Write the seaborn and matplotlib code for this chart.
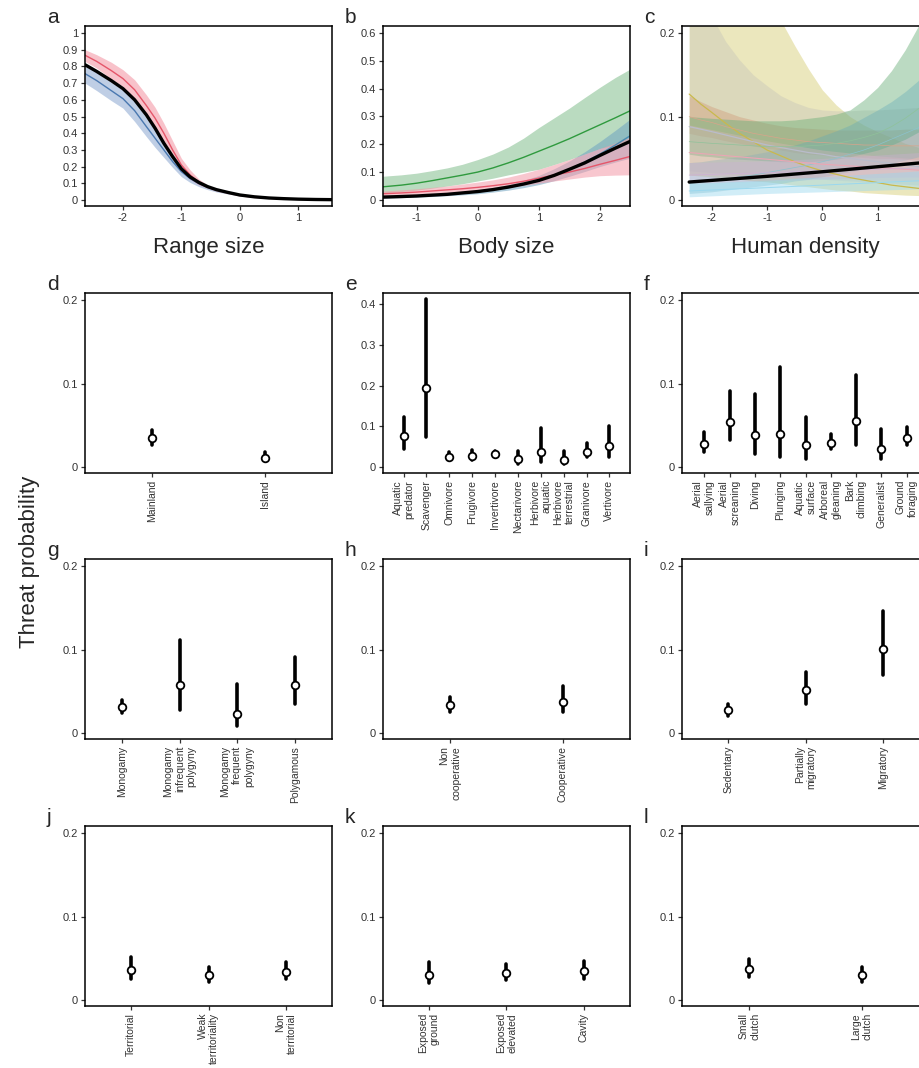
import numpy as np
import pandas as pd
import matplotlib
matplotlib.use("Agg")
import matplotlib.pyplot as plt
import seaborn as sns

sns.set_theme(style="ticks")
plt.rcParams["font.family"] = ["Liberation Sans", "DejaVu Sans"]

# =============================================================================
# DATA
# =============================================================================
# a - range size
xa = [-2.65, -2.45, -2.2, -2.0, -1.8, -1.6, -1.45, -1.3, -1.15, -1.0, -0.85,
      -0.7, -0.55, -0.4, -0.2, 0, 0.25, 0.5, 0.75, 1.0, 1.3, 1.58]
a_black = [0.81, 0.77, 0.715, 0.667, 0.60, 0.51, 0.43, 0.34, 0.26, 0.187, 0.138,
           0.105, 0.08, 0.062, 0.045, 0.03, 0.019, 0.012, 0.008, 0.005, 0.003, 0.002]
a_red = [0.867, 0.83, 0.775, 0.727, 0.66, 0.566, 0.49, 0.40, 0.30, 0.21, 0.15,
         0.108, 0.08, 0.06, 0.043, 0.028, 0.018, 0.011, 0.007, 0.004, 0.003, 0.002]
a_red_hi = [0.90, 0.87, 0.825, 0.78, 0.72, 0.63, 0.555, 0.46, 0.355, 0.25, 0.18,
            0.125, 0.09, 0.067, 0.048, 0.033, 0.021, 0.014, 0.009, 0.006, 0.004, 0.003]
a_red_lo = [0.83, 0.79, 0.725, 0.68, 0.605, 0.51, 0.43, 0.34, 0.25, 0.17, 0.123,
            0.09, 0.07, 0.053, 0.038, 0.023, 0.014, 0.008, 0.005, 0.003, 0.002, 0.001]
a_blue = [0.757, 0.715, 0.655, 0.607, 0.535, 0.44, 0.37, 0.30, 0.23, 0.17, 0.128,
          0.098, 0.076, 0.059, 0.044, 0.03, 0.019, 0.012, 0.008, 0.005, 0.003, 0.002]
a_blue_hi = [0.80, 0.765, 0.705, 0.66, 0.59, 0.49, 0.42, 0.345, 0.265, 0.19, 0.142,
             0.108, 0.084, 0.066, 0.05, 0.035, 0.023, 0.015, 0.01, 0.007, 0.004, 0.003]
a_blue_lo = [0.70, 0.655, 0.595, 0.55, 0.47, 0.38, 0.315, 0.255, 0.195, 0.14, 0.105,
             0.08, 0.062, 0.048, 0.036, 0.024, 0.015, 0.009, 0.006, 0.003, 0.002, 0.001]

# b - body size
xb = [-1.55, -1.25, -1, -0.75, -0.5, -0.25, 0, 0.25, 0.5, 0.75, 1, 1.25, 1.5,
      1.75, 2, 2.25, 2.49]
b_black = [0.01, 0.012, 0.014, 0.017, 0.02, 0.025, 0.03, 0.037, 0.046, 0.057, 0.07,
           0.088, 0.11, 0.133, 0.16, 0.186, 0.21]
b_green = [0.047, 0.053, 0.06, 0.069, 0.079, 0.089, 0.10, 0.115, 0.133, 0.153, 0.175,
           0.197, 0.22, 0.245, 0.27, 0.295, 0.32]
b_green_hi = [0.085, 0.09, 0.096, 0.105, 0.115, 0.128, 0.145, 0.165, 0.19, 0.222, 0.26,
              0.295, 0.33, 0.368, 0.405, 0.44, 0.47]
b_green_lo = [0.025, 0.03, 0.035, 0.042, 0.05, 0.058, 0.068, 0.078, 0.09, 0.1, 0.11,
              0.127, 0.145, 0.165, 0.185, 0.198, 0.21]
b_red = [0.022, 0.025, 0.028, 0.032, 0.036, 0.04, 0.045, 0.051, 0.058, 0.067, 0.078,
         0.089, 0.10, 0.113, 0.128, 0.142, 0.156]
b_red_hi = [0.032, 0.036, 0.04, 0.045, 0.05, 0.057, 0.064, 0.072, 0.082, 0.095, 0.11,
            0.127, 0.145, 0.165, 0.185, 0.205, 0.225]
b_red_lo = [0.015, 0.017, 0.02, 0.023, 0.026, 0.029, 0.032, 0.038, 0.045, 0.052, 0.06,
            0.068, 0.075, 0.082, 0.087, 0.089, 0.09]
b_blue = [0.009, 0.011, 0.013, 0.016, 0.019, 0.024, 0.029, 0.036, 0.045, 0.056, 0.07,
          0.088, 0.11, 0.136, 0.165, 0.197, 0.23]
b_blue_hi = [0.012, 0.014, 0.017, 0.02, 0.024, 0.029, 0.036, 0.045, 0.055, 0.07, 0.088,
             0.112, 0.14, 0.173, 0.21, 0.25, 0.29]
b_blue_lo = [0.006, 0.008, 0.01, 0.012, 0.015, 0.018, 0.022, 0.028, 0.035, 0.044, 0.055,
             0.069, 0.085, 0.102, 0.12, 0.136, 0.15]

# c - human density (curved groups)
xc = [-2.41, -2.2, -2, -1.75, -1.5, -1.25, -1, -0.75, -0.5, -0.25, 0, 0.25, 0.5,
      0.75, 1, 1.25, 1.5, 1.75, 2]
c_yellow = [0.127, 0.115, 0.105, 0.092, 0.08, 0.07, 0.06, 0.053, 0.046, 0.04, 0.035,
            0.031, 0.027, 0.024, 0.021, 0.018, 0.016, 0.014, 0.012]
c_yellow_hi = [0.60, 0.52, 0.45, 0.385, 0.33, 0.285, 0.25, 0.215, 0.185, 0.157, 0.132,
               0.114, 0.10, 0.09, 0.082, 0.075, 0.068, 0.063, 0.058]
c_yellow_lo = [0.03, 0.029, 0.028, 0.026, 0.025, 0.023, 0.022, 0.02, 0.018, 0.016, 0.014,
               0.012, 0.011, 0.009, 0.008, 0.007, 0.006, 0.0055, 0.005]
c_grey = [0.088, 0.085, 0.082, 0.078, 0.074, 0.07, 0.066, 0.063, 0.06, 0.057, 0.055,
          0.052, 0.05, 0.048, 0.046, 0.044, 0.042, 0.04, 0.039]
c_grey_hi = [0.30, 0.255, 0.22, 0.19, 0.168, 0.15, 0.137, 0.125, 0.117, 0.111, 0.108,
             0.107, 0.107, 0.108, 0.108, 0.109, 0.11, 0.111, 0.112]
c_grey_lo = [0.035, 0.034, 0.033, 0.032, 0.031, 0.03, 0.029, 0.028, 0.027, 0.026, 0.025,
             0.024, 0.023, 0.022, 0.021, 0.02, 0.019, 0.018, 0.018]
c_green = [0.07, 0.069, 0.068, 0.067, 0.066, 0.065, 0.064, 0.064, 0.064, 0.065, 0.066,
           0.068, 0.071, 0.075, 0.08, 0.088, 0.098, 0.11, 0.125]
c_green_hi = [0.10, 0.099, 0.098, 0.097, 0.096, 0.095, 0.095, 0.095, 0.096, 0.098, 0.10,
              0.103, 0.108, 0.12, 0.135, 0.155, 0.18, 0.21, 0.25]
c_green_lo = [0.055, 0.053, 0.052, 0.05, 0.049, 0.048, 0.047, 0.046, 0.046, 0.046, 0.047,
              0.049, 0.052, 0.056, 0.06, 0.066, 0.073, 0.082, 0.09]
c_orange = [0.10, 0.096, 0.093, 0.088, 0.084, 0.08, 0.077, 0.074, 0.072, 0.07, 0.069,
            0.068, 0.067, 0.066, 0.066, 0.065, 0.065, 0.065, 0.065]
c_orange_hi = [0.125, 0.118, 0.112, 0.106, 0.10, 0.096, 0.092, 0.089, 0.087, 0.086, 0.085,
               0.084, 0.084, 0.084, 0.084, 0.084, 0.085, 0.085, 0.086]
c_orange_lo = [0.08, 0.077, 0.075, 0.071, 0.068, 0.065, 0.062, 0.06, 0.057, 0.055, 0.054,
               0.053, 0.052, 0.051, 0.05, 0.05, 0.049, 0.048, 0.048]
c_teal = [0.02, 0.021, 0.023, 0.025, 0.028, 0.03, 0.033, 0.036, 0.039, 0.042, 0.046,
          0.05, 0.055, 0.06, 0.066, 0.073, 0.08, 0.087, 0.095]
c_teal_hi = [0.045, 0.046, 0.048, 0.05, 0.052, 0.055, 0.058, 0.062, 0.066, 0.071, 0.077,
             0.083, 0.09, 0.099, 0.108, 0.118, 0.13, 0.144, 0.16]
c_teal_lo = [0.008, 0.009, 0.01, 0.012, 0.014, 0.016, 0.018, 0.02, 0.023, 0.025, 0.028,
             0.031, 0.034, 0.037, 0.04, 0.044, 0.048, 0.052, 0.056]

# c - human density (near-straight groups)
xs = [-2.41, -1, 0, 1, 2]
c_black = [0.0217, 0.0285, 0.034, 0.040, 0.046]
c_pink = [0.057, 0.049, 0.043, 0.039, 0.035]
c_pink_hi = [0.09, 0.071, 0.06, 0.053, 0.048]
c_pink_lo = [0.03, 0.028, 0.026, 0.024, 0.022]
c_purple = [0.03, 0.033, 0.035, 0.037, 0.039]
c_purple_hi = [0.045, 0.047, 0.05, 0.054, 0.058]
c_purple_lo = [0.02, 0.023, 0.025, 0.027, 0.028]
c_sky = [0.011, 0.015, 0.018, 0.021, 0.024]
c_sky_hi = [0.02, 0.024, 0.028, 0.032, 0.036]
c_sky_lo = [0.004, 0.008, 0.01, 0.012, 0.014]

# d - insularity
d_labels = ["Mainland", "Island"]
d_mid = [0.035, 0.011]
d_lo = [0.026, 0.008]
d_hi = [0.044, 0.018]

# e - diet
e_labels = ["Aquatic\npredator", "Scavenger", "Omnivore", "Frugivore", "Invertivore",
            "Nectarivore", "Herbivore\naquatic", "Herbivore\nterrestrial", "Granivore", "Vertivore"]
e_mid = [0.075, 0.193, 0.025, 0.028, 0.032, 0.020, 0.037, 0.017, 0.037, 0.052]
e_lo = [0.043, 0.074, 0.017, 0.018, 0.026, 0.008, 0.012, 0.007, 0.025, 0.025]
e_hi = [0.122, 0.414, 0.037, 0.041, 0.039, 0.039, 0.095, 0.039, 0.060, 0.100]

# f - foraging
f_labels = ["Aerial\nsallying", "Aerial\nscreaning", "Diving", "Plunging", "Aquatic\nsurface",
            "Arboreal\ngleaning", "Bark\nclimbing", "Generalist", "Ground\nforaging"]
f_mid = [0.028, 0.054, 0.038, 0.039, 0.026, 0.029, 0.055, 0.022, 0.035]
f_lo = [0.018, 0.032, 0.015, 0.012, 0.010, 0.022, 0.026, 0.010, 0.026]
f_hi = [0.042, 0.091, 0.088, 0.120, 0.060, 0.039, 0.110, 0.045, 0.048]

# g - mating system
g_labels = ["Monogamy", "Monogamy\ninfrequent\npolygyny", "Monogamy\nfrequent\npolygyny", "Polygamous"]
g_mid = [0.031, 0.057, 0.023, 0.057]
g_lo = [0.024, 0.028, 0.008, 0.035]
g_hi = [0.040, 0.112, 0.059, 0.091]

# h - cooperative breeding
h_labels = ["Non\ncooperative", "Cooperative"]
h_mid = [0.033, 0.037]
h_lo = [0.025, 0.025]
h_hi = [0.043, 0.056]

# i - migration
i_labels = ["Sedentary", "Partially\nmigratory", "Migratory"]
i_mid = [0.027, 0.051, 0.101]
i_lo = [0.020, 0.035, 0.069]
i_hi = [0.035, 0.073, 0.146]

# j - territoriality
j_labels = ["Territorial", "Weak\nterritoriality", "Non\nterritorial"]
j_mid = [0.036, 0.030, 0.034]
j_lo = [0.025, 0.022, 0.025]
j_hi = [0.051, 0.040, 0.045]

# k - nest type
k_labels = ["Exposed\nground", "Exposed\nelevated", "Cavity"]
k_mid = [0.030, 0.032, 0.035]
k_lo = [0.020, 0.024, 0.025]
k_hi = [0.045, 0.043, 0.047]

# l - clutch size
l_labels = ["Small\nclutch", "Large\nclutch"]
l_mid = [0.037, 0.030]
l_lo = [0.028, 0.022]
l_hi = [0.049, 0.039]

# =============================================================================
# LAYOUT (pixels)
# =============================================================================
W, H = 920, 1068
COLS = [85, 383, 682]
ROWS = [26, 293, 559, 826]
AW, AH = 247, 180
TXT = "#333333"

fig = plt.figure(figsize=(W / 100, H / 100), dpi=100)


def make_ax(col, row, letter):
    ax = fig.add_axes([COLS[col] / W, 1 - (ROWS[row] + AH) / H, AW / W, AH / H])
    for s in ax.spines.values():
        s.set_visible(True)
        s.set_linewidth(1.1)
        s.set_color("black")
    ax.tick_params(direction="out", length=3, width=0.9, color=TXT,
                   labelsize=8, labelcolor=TXT, pad=2)
    fig.text((COLS[col] - 38) / W, 1 - (ROWS[row] - 3) / H, letter,
             fontsize=15, ha="left", va="baseline")
    return ax


def set_yaxis(ax, ticks, lo, hi):
    ax.set_ylim(lo, hi)
    ax.set_yticks(ticks)
    ax.set_yticklabels([f"{t:g}" for t in ticks])
    ax.set_ylabel("")


def band(ax, x, mid, lo, hi, line_col, fill_col, alpha, lw=1.0):
    ax.fill_between(x, lo, hi, color=fill_col, alpha=alpha, lw=0)
    sns.lineplot(x=x, y=mid, ax=ax, color=line_col, lw=lw)


def curve_axis(ax, xlim, xticks, title, col):
    ax.set_xlim(*xlim)
    ax.set_xticks(xticks)
    ax.set_xticklabels([f"{t:g}" for t in xticks])
    ax.set_xlabel("")
    fig.text((COLS[col] + AW / 2) / W, 1 - 247 / H, title, fontsize=16,
             ha="center", va="center")


def cat_panel(ax, labels, mid, lo, hi, margin):
    df = pd.DataFrame({
        "cat": np.repeat(labels, 3),
        "val": np.column_stack([lo, mid, hi]).ravel(),
    })
    sns.pointplot(data=df, x="cat", y="val", estimator="median",
                  errorbar=("pi", 100), color="black", marker="o",
                  linestyle="none", markersize=5.5, markerfacecolor="white",
                  markeredgecolor="black", markeredgewidth=1.3,
                  err_kws={"linewidth": 2.6}, ax=ax)
    for ln in ax.lines:
        if ln.get_marker() == "o":
            ln.set_zorder(5)
    ax.set_xlim(-margin, len(labels) - 1 + margin)
    ax.set_xlabel("")
    plt.setp(ax.get_xticklabels(), rotation=90, ha="center", va="top",
             multialignment="right", fontsize=7.5)


# ---- a ----
ax = make_ax(0, 0, "a")
band(ax, xa, a_blue, a_blue_lo, a_blue_hi, "#4a78b0", "#9db5d8", 0.65)
band(ax, xa, a_red, a_red_lo, a_red_hi, "#e5566a", "#f49aa8", 0.6)
sns.lineplot(x=xa, y=a_black, ax=ax, color="black", lw=2.4)
curve_axis(ax, (-2.65, 1.58), [-2, -1, 0, 1], "Range size", 0)
set_yaxis(ax, [0, 0.1, 0.2, 0.3, 0.4, 0.5, 0.6, 0.7, 0.8, 0.9, 1], -0.036, 1.042)

# ---- b ----
ax = make_ax(1, 0, "b")
band(ax, xb, b_green, b_green_lo, b_green_hi, "#2f9a3e", "#8cc397", 0.6)
band(ax, xb, b_blue, b_blue_lo, b_blue_hi, "#4a8ab0", "#6fa3c0", 0.55)
band(ax, xb, b_red, b_red_lo, b_red_hi, "#e5566a", "#f49aa8", 0.55)
sns.lineplot(x=xb, y=b_black, ax=ax, color="black", lw=2.4)
curve_axis(ax, (-1.55, 2.49), [-1, 0, 1, 2], "Body size", 1)
set_yaxis(ax, [0, 0.1, 0.2, 0.3, 0.4, 0.5, 0.6], -0.022, 0.625)

# ---- c ----
ax = make_ax(2, 0, "c")
band(ax, xc, c_yellow, c_yellow_lo, c_yellow_hi, "#c9b94c", "#d9d07c", 0.5, lw=0.9)
band(ax, xc, c_grey, c_grey_lo, c_grey_hi, "#b9bccb", "#b8b8b8", 0.3, lw=0.9)
band(ax, xc, c_orange, c_orange_lo, c_orange_hi, "#d9a48a", "#cf8f6c", 0.35, lw=0.5)
band(ax, xc, c_green, c_green_lo, c_green_hi, "#8fc29a", "#6aae78", 0.45, lw=0.5)
band(ax, xc, c_teal, c_teal_lo, c_teal_hi, "#8cc2cd", "#5fa8b8", 0.35, lw=0.5)
band(ax, xs, c_pink, c_pink_lo, c_pink_hi, "#eaa6b4", "#eab6c2", 0.3, lw=0.8)
band(ax, xs, c_purple, c_purple_lo, c_purple_hi, "#cdb0d6", "#cdb0d6", 0.35, lw=0.5)
band(ax, xs, c_sky, c_sky_lo, c_sky_hi, "#9ad8ef", "#9ad8ef", 0.45, lw=0.7)
sns.lineplot(x=xs, y=c_black, ax=ax, color="black", lw=2.4)
curve_axis(ax, (-2.54, 1.93), [-2, -1, 0, 1], "Human density", 2)
set_yaxis(ax, [0, 0.1, 0.2], -0.007, 0.2085)

# ---- categorical panels ----
small = [0, 0.1, 0.2]
ylo, yhi = -0.0072, 0.2085
panels = [
    (0, 1, "d", d_labels, d_mid, d_lo, d_hi, 0.6),
    (1, 1, "e", e_labels, e_mid, e_lo, e_hi, 0.9),
    (2, 1, "f", f_labels, f_mid, f_lo, f_hi, 0.88),
    (0, 2, "g", g_labels, g_mid, g_lo, g_hi, 0.65),
    (1, 2, "h", h_labels, h_mid, h_lo, h_hi, 0.6),
    (2, 2, "i", i_labels, i_mid, i_lo, i_hi, 0.6),
    (0, 3, "j", j_labels, j_mid, j_lo, j_hi, 0.6),
    (1, 3, "k", k_labels, k_mid, k_lo, k_hi, 0.6),
    (2, 3, "l", l_labels, l_mid, l_lo, l_hi, 0.6),
]
for col, row, letter, labs, mid, lo, hi, m in panels:
    ax = make_ax(col, row, letter)
    cat_panel(ax, labs, mid, lo, hi, m)
    if letter == "e":
        set_yaxis(ax, [0, 0.1, 0.2, 0.3, 0.4], -0.015, 0.428)
    else:
        set_yaxis(ax, small, ylo, yhi)

fig.text(30 / W, 1 - 562 / H, "Threat probability", fontsize=16,
         rotation=90, ha="center", va="center")

fig.savefig("out.png", dpi=100)
